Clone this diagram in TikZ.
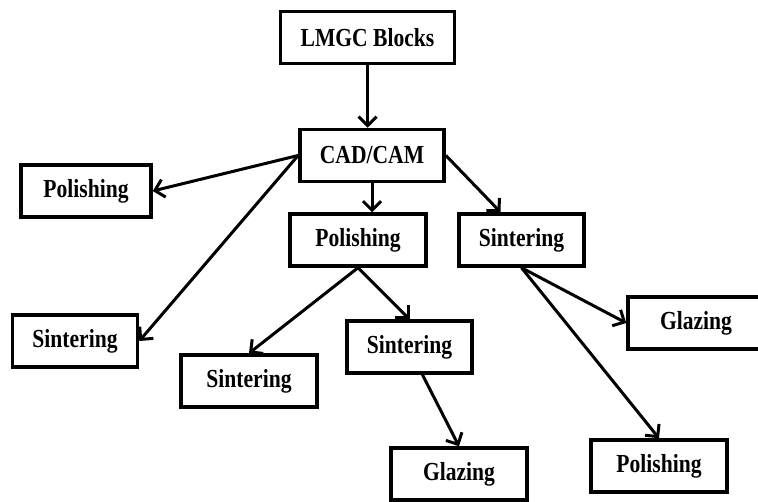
\documentclass[tikz,border=0pt]{standalone}
\usepackage{fontspec}
\setmainfont{Liberation Serif}[FakeStretch=0.83]
\usepackage{tikz}
\usetikzlibrary{arrows.meta,positioning}
\tikzset
{
    procnode/.style = {draw=black, line width=3.5pt, align=center, inner xsep=20pt, minimum height=52pt, font=\fontsize{26}{30}\selectfont\bfseries},
    widenode/.style = {procnode, minimum width=136pt},
    flow/.style     = {line width=3pt}
}

\begin{document}
\begin{tikzpicture}[->,>={Straight Barb[length=9pt,width=18pt]}, x=1pt, y=-1pt]
    \useasboundingbox (0,0) rectangle (758,502);
    % nodes
    \node [procnode] (lmgc)   at (367.5,37.5) {LMGC Blocks};
    \node [procnode] (cadcam) at (372,155.5)  {CAD/CAM};
    \node [procnode, minimum width=130pt] (polL) at (86,191) {Polishing};
    \node [widenode] (polM)   at (358,240)    {Polishing};
    \node [procnode] (sintR)  at (521.5,240)  {Sintering};
    \node [procnode] (sintL)  at (75,341)     {Sintering};
    \node [widenode] (sintBL) at (249,381)    {Sintering};
    \node [procnode] (sintM)  at (409.5,347)  {Sintering};
    \node [widenode] (glazR)  at (696,323)    {Glazing};
    \node [widenode] (glazB)  at (459,474)    {Glazing};
    \node [widenode] (polBR)  at (659,466)    {Polishing};
    % arrows
    \draw [flow] (lmgc.south) -- (lmgc.south |- cadcam.north);
    \draw [flow] (cadcam.west) -- (polL.east);
    \draw [flow] (cadcam.west) -- (sintL.east);
    \draw [flow] (cadcam.south) -- (cadcam.south |- polM.north);
    \draw [flow] (cadcam.east) -- (sintR.127);
    \draw [flow] (polM.south) -- (sintBL.north);
    \draw [flow] (polM.south) -- (sintM.north);
    \draw [flow] (sintM.-65) -- (glazB.north);
    \draw [flow] (sintR.south) -- (glazR.west);
    \draw [flow] (sintR.south) -- (polBR.north);
\end{tikzpicture}
\end{document}
